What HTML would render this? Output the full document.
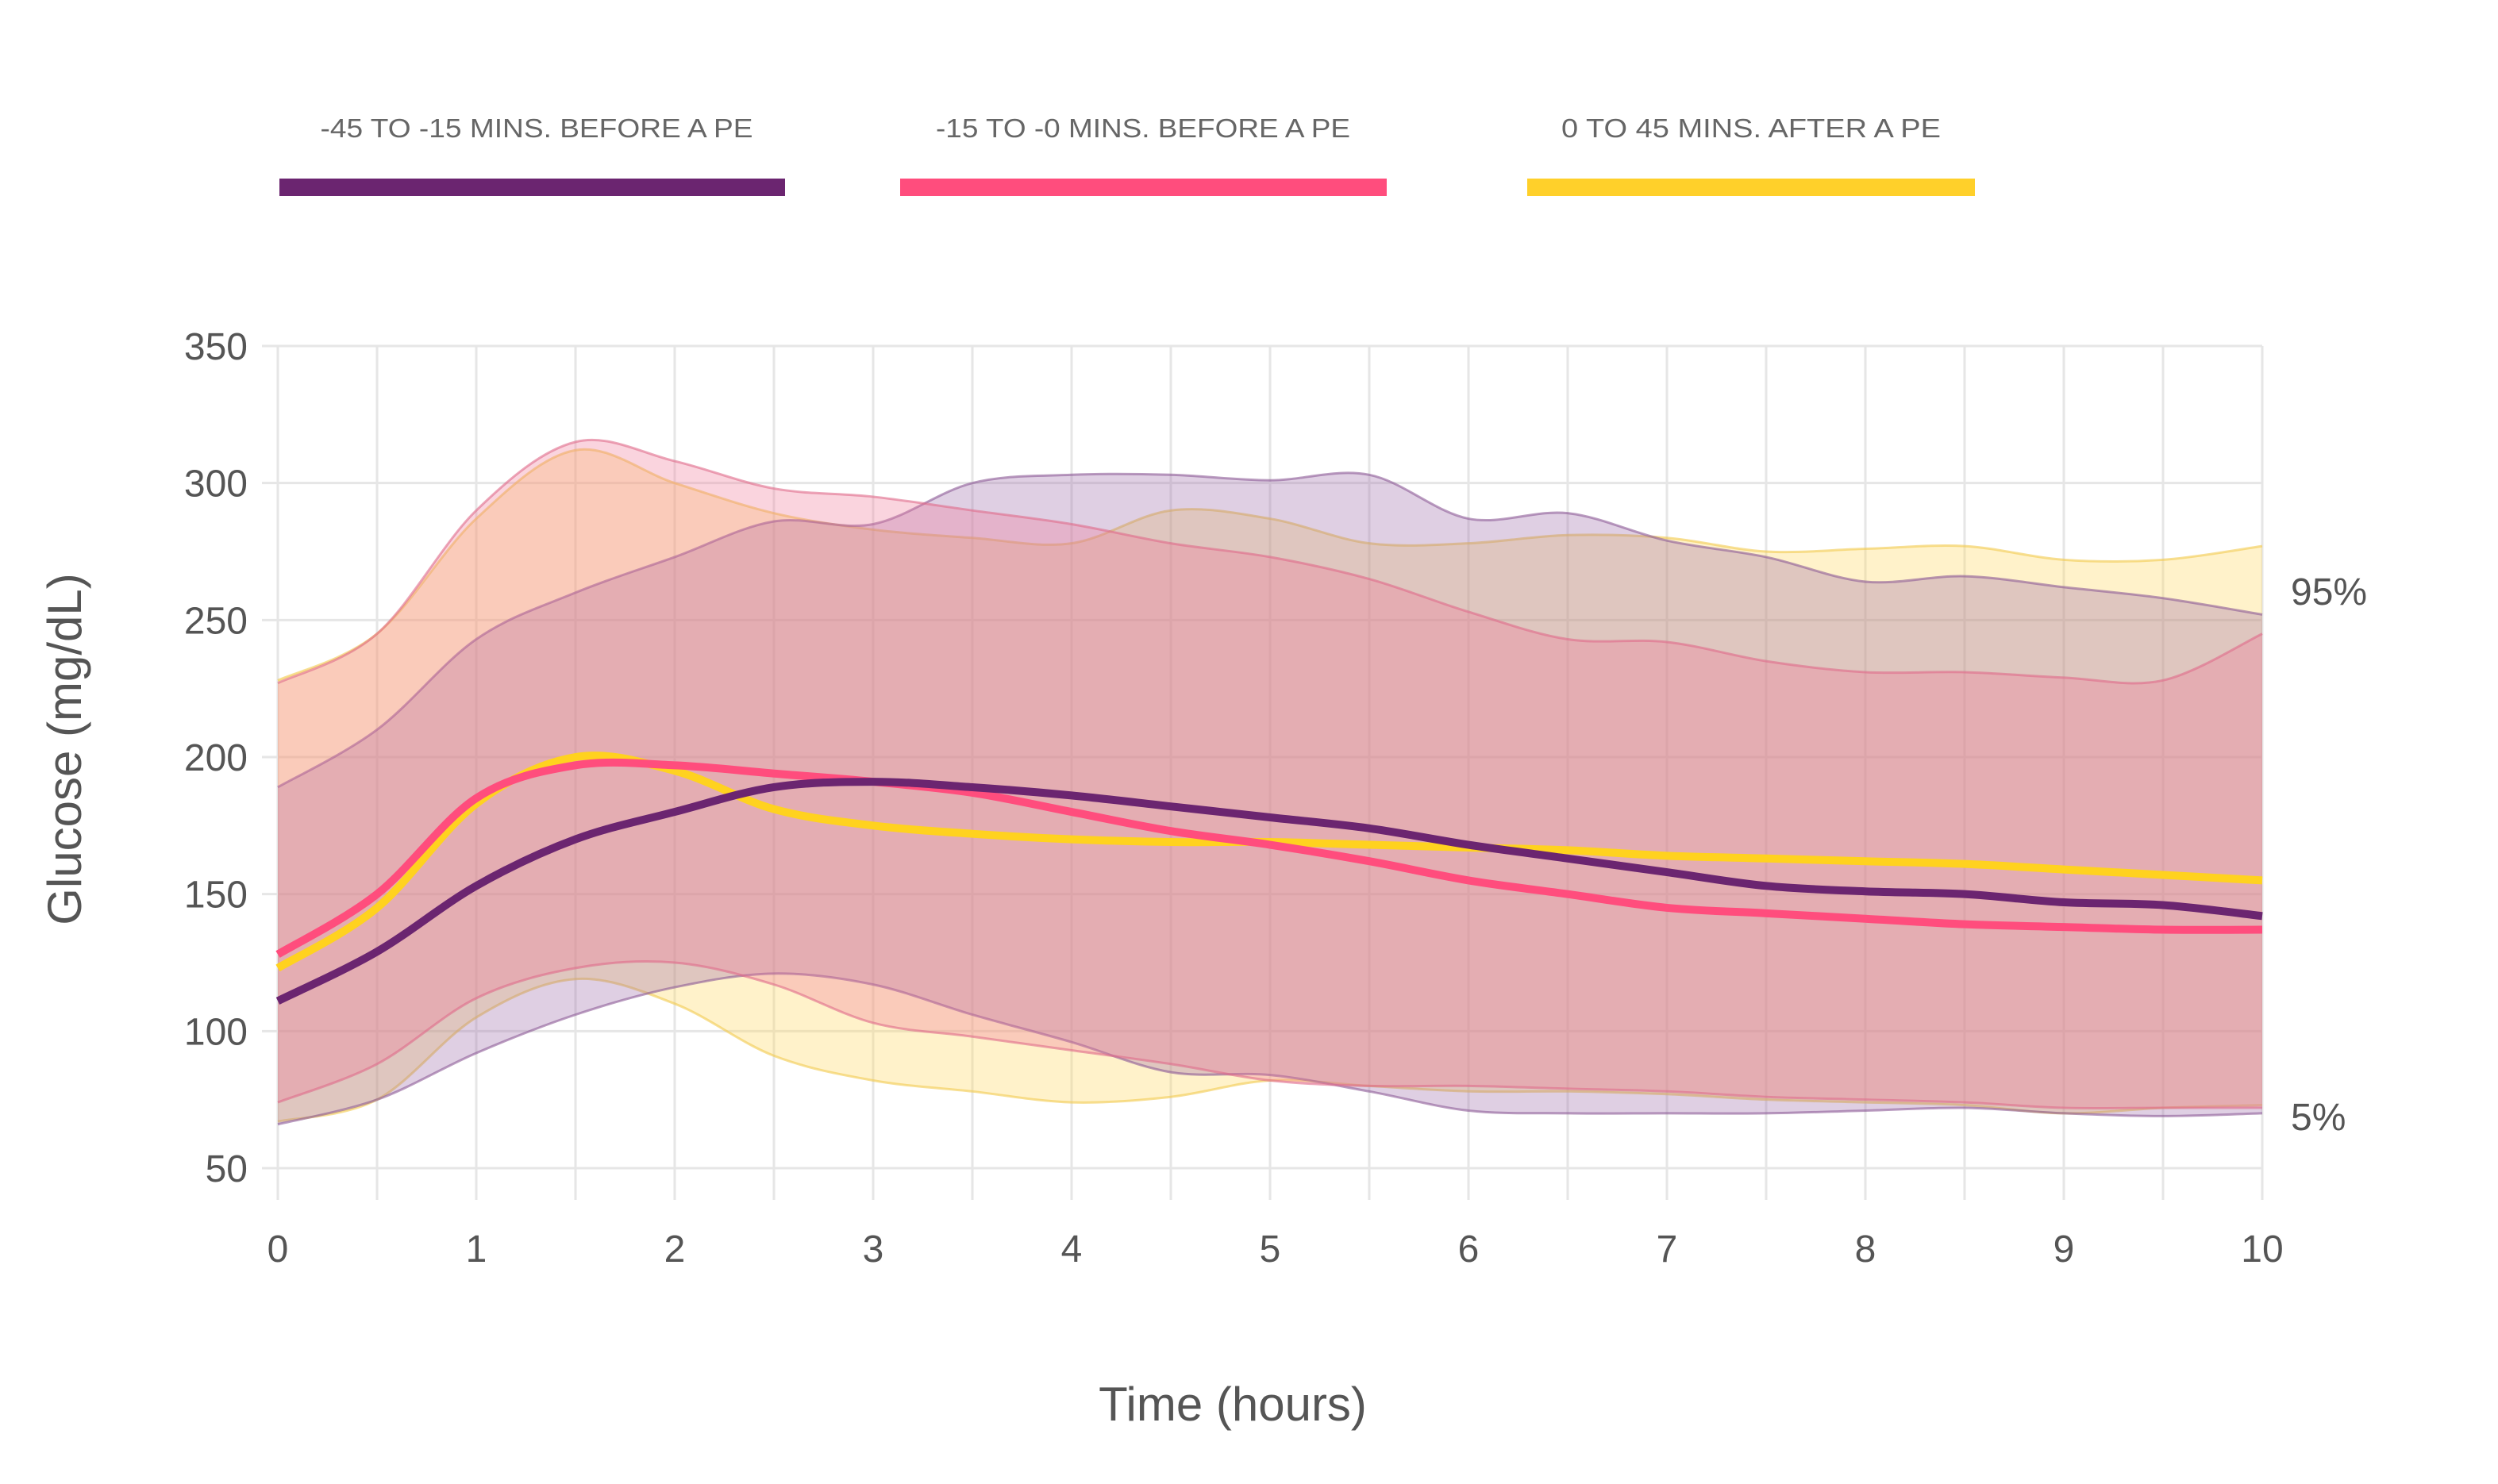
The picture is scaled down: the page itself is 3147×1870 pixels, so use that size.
<!DOCTYPE html>
<html><head><meta charset="utf-8"><style>
html,body{margin:0;padding:0;background:#fff;}
svg{display:block;font-family:"Liberation Sans",sans-serif;}
</style></head><body>
<svg id="chart" width="3147" height="1870" viewBox="0 0 3147 1870" xmlns="http://www.w3.org/2000/svg">
<g id="legend">
  <g>
    <text x="676" y="173" text-anchor="middle" font-size="33" fill="#666" textLength="545" lengthAdjust="spacingAndGlyphs">-45 TO -15 MINS. BEFORE A PE</text>
    <rect x="352" y="225" width="637" height="22" fill="#6b2570"/>
  </g>
  <g>
    <text x="1440" y="173" text-anchor="middle" font-size="33" fill="#666" textLength="522" lengthAdjust="spacingAndGlyphs">-15 TO -0 MINS. BEFORE A PE</text>
    <rect x="1134" y="225" width="613" height="22" fill="#ff4d7d"/>
  </g>
  <g>
    <text x="2206" y="173" text-anchor="middle" font-size="33" fill="#666" textLength="478" lengthAdjust="spacingAndGlyphs">0 TO 45 MINS. AFTER A PE</text>
    <rect x="1924" y="225" width="564" height="22" fill="#ffd02a"/>
  </g>
</g>
<g id="grid"></g>
<g id="bands"></g>
<g id="lines"></g>
<g id="axes"></g>
<text transform="translate(102,944) rotate(-90)" text-anchor="middle" font-size="60" fill="#555">Glucose (mg/dL)</text>
<text x="1553" y="1790" text-anchor="middle" font-size="60" fill="#555">Time (hours)</text>
<text x="2886" y="762" font-size="48" fill="#555">95%</text>
<text x="2886" y="1424" font-size="48" fill="#555">5%</text>
</svg>
<script>
const times = [0,0.5,1,1.5,2,2.5,3,3.5,4,4.5,5,5.5,6,6.5,7,7.5,8,8.5,9,9.5,10];
const purpleMean = [111,129,153,170,180,189,191,189,186,182,178,174,168,163,158,153,151,150,147,146,142];
const pinkMean = [128,150,185,197,197,194,191,187,180,173,168,162,155,150,145,143,141,139,138,137,137];
const yellowMean = [123,145,183,200,195,181,175,172,170,169,169,168,167,166,164,163,162,161,159,157,155];
const purpleUpper = [189,210,243,260,273,286,285,300,303,303,301,303,287,289,279,273,264,266,262,258,252];
const purpleLower = [66,75,92,106,116,121,117,106,96,85,84,78,71,70,70,70,71,72,70,69,70];
const pinkUpper = [227,245,290,315,308,298,295,290,285,278,273,265,253,243,242,235,231,231,229,228,245];
const pinkLower = [74,88,112,123,125,117,103,98,93,88,82,80,80,79,78,76,75,74,72,72,72];
const yellowUpper = [228,245,287,312,300,289,283,280,278,290,287,278,278,281,280,275,276,277,272,272,277];
const yellowLower = [67,75,105,119,110,91,82,78,74,76,82,80,78,78,77,75,74,73,70,72,73];
const yTicks = [50,100,150,200,250,300,350];
const xTicks = [0,1,2,3,4,5,6,7,8,9,10];

const NS='http://www.w3.org/2000/svg';
const X0=350,X1=2850,Y50=1472,Y350=436;
const xs=t=>X0+(X1-X0)*t/10;
const ys=v=>Y50-(Y50-Y350)*(v-50)/300;
function mk(tag,attrs,parent){const e=document.createElementNS(NS,tag);for(const k in attrs)e.setAttribute(k,attrs[k]);parent.appendChild(e);return e;}
function smooth(pts,moveFirst){
  let d=moveFirst?`M${pts[0][0]},${pts[0][1]}`:`L${pts[0][0]},${pts[0][1]}`;
  for(let i=0;i<pts.length-1;i++){
    const p0=pts[Math.max(i-1,0)],p1=pts[i],p2=pts[i+1],p3=pts[Math.min(i+2,pts.length-1)];
    const c1=[p1[0]+(p2[0]-p0[0])/6,p1[1]+(p2[1]-p0[1])/6];
    const c2=[p2[0]-(p3[0]-p1[0])/6,p2[1]-(p3[1]-p1[1])/6];
    d+=`C${c1[0]},${c1[1]} ${c2[0]},${c2[1]} ${p2[0]},${p2[1]}`;
  }
  return d;
}
const grid=document.getElementById('grid');
for(let h=0;h<=20;h++){
  const l=mk('line',{x1:xs(h/2),x2:xs(h/2),y1:Y350,y2:Y50+40,stroke:'#e6e6e6','stroke-width':3},grid);
  
  
}
yTicks.forEach(v=>{
  const l=mk('line',{x1:X0-20,x2:X1,y1:ys(v),y2:ys(v),stroke:'#e6e6e6','stroke-width':3},grid);
  
  
});
const bands=document.getElementById('bands');
function band(up,lo,fill,stroke,name){
  const top=up.map((v,i)=>[xs(times[i]),ys(v)]);
  const bot=lo.map((v,i)=>[xs(times[i]),ys(v)]).reverse();
  const p=mk('path',{d:smooth(top,true)+smooth(bot,false)+'Z',fill:fill,'fill-opacity':0.32,stroke:'none'},bands);
  
  
  const s1=mk('path',{d:smooth(top,true),fill:'none',stroke:stroke,'stroke-width':3,'stroke-opacity':0.6},bands);
  
  
  const s2=mk('path',{d:smooth(lo.map((v,i)=>[xs(times[i]),ys(v)]),true),fill:'none',stroke:stroke,'stroke-width':3,'stroke-opacity':0.6},bands);
  
  
}
band(yellowUpper,yellowLower,'#ffd65a','#f2c94c','band-after-pe');
band(purpleUpper,purpleLower,'#9a6aa8','#8c5a96','band-45-to-15');
band(pinkUpper,pinkLower,'#f07a98','#e06a8a','band-15-to-0');
const lines=document.getElementById('lines');
function line(vals,color,name){
  const pts=vals.map((v,i)=>[xs(times[i]),ys(v)]);
  const p=mk('path',{d:smooth(pts,true),fill:'none',stroke:color,'stroke-width':10,'stroke-linecap':'butt'},lines);
  
  
}
line(yellowMean,'#ffd21f','line-after-pe');
line(pinkMean,'#ff4d7d','line-15-to-0');
line(purpleMean,'#6b2570','line-45-to-15');
const axes=document.getElementById('axes');
yTicks.forEach(v=>{
  const t=mk('text',{x:312,y:ys(v)+17,'text-anchor':'end','font-size':48,fill:'#555'},axes);
  t.textContent=v;
  
  
});
xTicks.forEach(v=>{
  const t=mk('text',{x:xs(v),y:1590,'text-anchor':'middle','font-size':48,fill:'#555'},axes);
  t.textContent=v;
  
  
});
</script>
</body></html>
